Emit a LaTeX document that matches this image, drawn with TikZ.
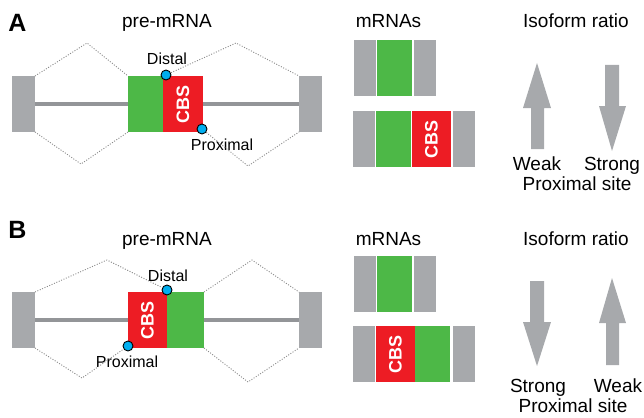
\documentclass[tikz,border=0pt]{standalone}
\usepackage{fontspec}
\setmainfont{Liberation Sans}
\definecolor{exgray}{HTML}{A7A9AC}
\definecolor{lngray}{HTML}{939598}
\definecolor{exgreen}{HTML}{4DB847}
\definecolor{exred}{HTML}{ED1C24}
\definecolor{dotblue}{HTML}{00AEEF}
\definecolor{dotgray}{HTML}{8A8A8A}
\begin{document}
\begin{tikzpicture}[x=1pt,y=-1pt,
  box/.style={rectangle, inner sep=0pt, outer sep=0pt, anchor=north west},
  gbox/.style={box, fill=exgray},
  grbox/.style={box, fill=exgreen},
  rdbox/.style={box, fill=exred},
  intron/.style={draw=lngray, line width=4pt},
  splice/.style={draw=dotgray, line width=0.9pt, dash pattern=on 1pt off 1.6pt},
  site/.style={circle, draw=black, line width=0.9pt, fill=dotblue, minimum size=10pt, inner sep=0pt},
  cbs/.style={text=white, font=\fontsize{18}{18}\selectfont\bfseries, rotate=90},
  head/.style={font=\fontsize{19}{19}\selectfont, anchor=base, inner sep=0pt},
  lab/.style={font=\fontsize{16}{16}\selectfont, anchor=base, inner sep=0pt},
  panel/.style={font=\fontsize{25}{25}\selectfont\bfseries, anchor=base, inner sep=0pt},
  arr/.style={fill=exgray}
]
\useasboundingbox (0,0) rectangle (644,417);

% ================= Panel A =================
\node[panel] (pA) at (17.5,32) {A};
\node[head] (preA) at (167,28) {pre-mRNA};
\node[head] (mA) at (388.5,28) {mRNAs};
\node[head] (isoA) at (576,28) {Isoform ratio};

\node[gbox, minimum width=23pt, minimum height=56pt] (aL) at (12,76) {};
\node[gbox, minimum width=23pt, minimum height=56pt] (aR) at (299,76) {};
\node[grbox, minimum width=35pt, minimum height=56pt] (aG) at (128,76) {};
\node[rdbox, minimum width=40pt, minimum height=56pt] (aC) at (163,76) {};
\node[cbs] (aCt) at (aC.center) {CBS};
\draw[intron] (aL.east) -- (aG.west);
\draw[intron] (aC.east) -- (aR.west);
\node[site] (aD) at (166,75) {};
\node[site] (aP) at (202,129) {};
\node[lab] (aDt) at (167,65) {Distal};
\node[lab] (aPt) at (222,150) {Proximal};

\coordinate (aU1) at (87,43);
\coordinate (aU2) at (236,43);
\coordinate (aB1) at (81,164);
\coordinate (aB2) at (248,166);
\draw[splice] (aL.north east) -- (aU1) -- (aG.north west);
\draw[splice] (aD) -- (aU2) -- (aR.north west);
\draw[splice] (aL.south east) -- (aB1) -- (aG.south west);
\draw[splice] (aP) -- (aB2) -- (aR.south west);

% mRNAs A
\node[gbox, minimum width=22pt, minimum height=56pt] (a1L) at (354,40) {};
\node[grbox, minimum width=35pt, minimum height=56pt] (a1G) at (377,40) {};
\node[gbox, minimum width=22pt, minimum height=56pt] (a1R) at (414,40) {};

\node[gbox, minimum width=22pt, minimum height=56pt] (a2L) at (353,111) {};
\node[grbox, minimum width=35pt, minimum height=56pt] (a2G) at (376,111) {};
\node[rdbox, minimum width=39pt, minimum height=56pt] (a2C) at (412,111) {};
\node[cbs] (a2Ct) at (a2C.center) {CBS};
\node[gbox, minimum width=22pt, minimum height=56pt] (a2R) at (453,111) {};

% arrows A
\fill[arr] (537,63) -- (551,108) -- (544,108) -- (544,149) -- (531,149) -- (531,108) -- (523,108) -- cycle;
\fill[arr] (612,151) -- (626,106) -- (619,106) -- (619,65) -- (605,65) -- (605,106) -- (599,106) -- cycle;
\node[head] (wA) at (537,170) {Weak};
\node[head] (sA) at (612,170) {Strong};
\node[head] (psA) at (577,190) {Proximal site};

% ================= Panel B =================
\node[panel] (pB) at (17.5,238) {B};
\node[head] (preB) at (167,245) {pre-mRNA};
\node[head] (mB) at (388.5,245) {mRNAs};
\node[head] (isoB) at (576,245) {Isoform ratio};

\node[gbox, minimum width=23pt, minimum height=56pt] (bL) at (12,292) {};
\node[gbox, minimum width=23pt, minimum height=56pt] (bR) at (299,292) {};
\node[rdbox, minimum width=39pt, minimum height=56pt] (bC) at (128,292) {};
\node[cbs] (bCt) at (bC.center) {CBS};
\node[grbox, minimum width=37pt, minimum height=56pt] (bG) at (167,292) {};
\draw[intron] (bL.east) -- (bC.west);
\draw[intron] (bG.east) -- (bR.west);
\node[site] (bD) at (167,290) {};
\node[site] (bP) at (128,346) {};
\node[lab] (bDt) at (168,281) {Distal};
\node[lab] (bPt) at (127,367) {Proximal};

\coordinate (bU1) at (107,260);
\coordinate (bU2) at (252,260);
\coordinate (bB1) at (82,378);
\coordinate (bB2) at (248,382);
\draw[splice] (bL.north east) -- (bU1) -- (bD);
\draw[splice] (bG.north east) -- (bU2) -- (bR.north west);
\draw[splice] (bL.south east) -- (bB1) -- (bP);
\draw[splice] (bG.south east) -- (bB2) -- (bR.south west);

% mRNAs B
\node[gbox, minimum width=22pt, minimum height=56pt] (b1L) at (354,256) {};
\node[grbox, minimum width=35pt, minimum height=56pt] (b1G) at (377,256) {};
\node[gbox, minimum width=22pt, minimum height=56pt] (b1R) at (414,256) {};

\node[gbox, minimum width=22pt, minimum height=56pt] (b2L) at (353,326) {};
\node[rdbox, minimum width=39pt, minimum height=56pt] (b2C) at (376,326) {};
\node[cbs] (b2Ct) at (b2C.center) {CBS};
\node[grbox, minimum width=35pt, minimum height=56pt] (b2G) at (415,326) {};
\node[gbox, minimum width=22pt, minimum height=56pt] (b2R) at (453,326) {};

% arrows B
\fill[arr] (537,366) -- (551,322) -- (544,322) -- (544,281) -- (530,281) -- (530,322) -- (523,322) -- cycle;
\fill[arr] (612,278) -- (626,323) -- (619,323) -- (619,365) -- (606,365) -- (606,323) -- (599,323) -- cycle;
\node[head] (sB) at (538,392) {Strong};
\node[head] (wB) at (618,392) {Weak};
\node[head] (psB) at (573,412) {Proximal site};
\end{tikzpicture}
\end{document}
